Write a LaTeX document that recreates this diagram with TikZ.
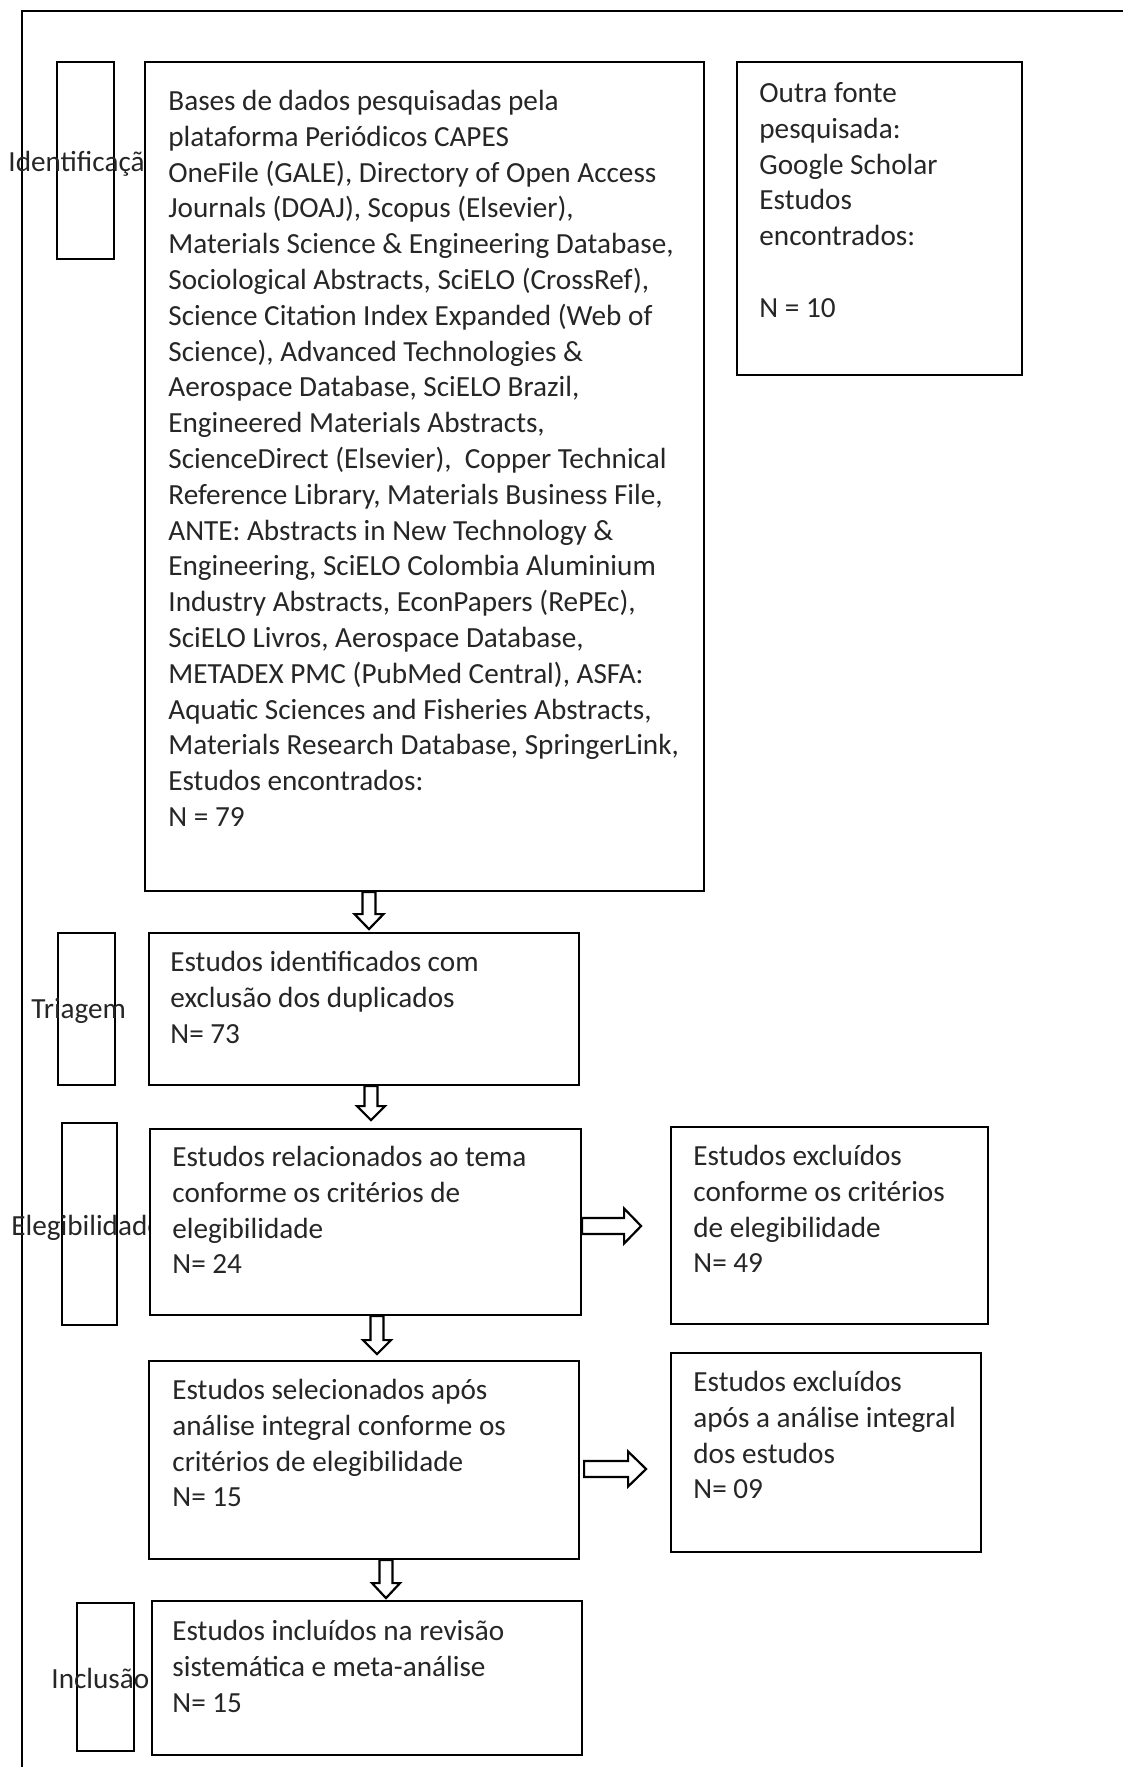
\documentclass[tikz,border=0pt]{standalone}
\usepackage{fontspec}
\setmainfont{Carlito}
\usetikzlibrary{fit,calc}
\tikzset{
  box/.style={draw=black, line width=1.1pt, fill=white, inner sep=0pt},
  labbox/.style={draw=black, line width=1.1pt, inner sep=0pt},
  txt/.style={anchor=north west, inner sep=0pt, align=left, font=\fontsize{14.6}{17.9}\selectfont, text=black!85},
  labtxt/.style={anchor=base west, inner sep=0pt, font=\fontsize{14.6}{17.9}\selectfont, text=black!85},
  blk/.style={draw=black, line width=1.1pt, fill=white, line join=miter}
}
\begin{document}
\begin{tikzpicture}[x=0.5pt,y=-0.5pt]
\useasboundingbox (0,0) rectangle (1123,1767);
% outer frame (only left and top visible)
\coordinate (fbl) at (22,1767);
\coordinate (ftl) at (22,11);
\coordinate (ftr) at (1123,11);
\draw[line width=1.2pt] (fbl) -- (ftl) -- (ftr);

% stage label boxes
\node[labbox, fit={(57,62) (114,259)}] (idlab) {};
\node[labbox, fit={(58,933) (115,1085)}] (trilab) {};
\node[labbox, fit={(62,1123) (117,1325)}] (elelab) {};
\node[labbox, fit={(77,1603) (134,1751)}] (inclab) {};

% stage label texts
\node[labtxt] (idtxt) at (8,171) {Identificação};
\node[labtxt] (tritxt) at (31,1018) {Triagem};
\node[labtxt] (eletxt) at (11,1235) {Elegibilidade};
\node[labtxt] (inctxt) at (51,1688) {Inclusão};

% main boxes
\node[box, fit={(145,62) (704,891)}] (main) {};
\node[box, fit={(737,62) (1022,375)}] (outra) {};
\node[box, fit={(149,933) (579,1085)}] (tri) {};
\node[box, fit={(150,1129) (581,1315)}] (ele) {};
\node[box, fit={(671,1127) (988,1324)}] (exc1) {};
\node[box, fit={(149,1361) (579,1559)}] (sel) {};
\node[box, fit={(671,1353) (981,1552)}] (exc2) {};
\node[box, fit={(152,1601) (582,1755)}] (inc) {};

% texts
\node[txt] (maintxt) at (168,85) {\strut Bases de dados pesquisadas pela\\
plataforma Periódicos CAPES\\
OneFile (GALE), Directory of Open Access\\
Journals (DOAJ), Scopus (Elsevier),\\
Materials Science \& Engineering Database,\\
Sociological Abstracts, SciELO (CrossRef),\\
Science Citation Index Expanded (Web of\\
Science), Advanced Technologies \&\\
Aerospace Database, SciELO Brazil,\\
Engineered Materials Abstracts,\\
ScienceDirect (Elsevier),\ \ Copper Technical\\
Reference Library, Materials Business File,\\
ANTE: Abstracts in New Technology \&\\
Engineering, SciELO Colombia Aluminium\\
Industry Abstracts, EconPapers (RePEc),\\
SciELO Livros, Aerospace Database,\\
METADEX PMC (PubMed Central), ASFA:\\
Aquatic Sciences and Fisheries Abstracts,\\
Materials Research Database, SpringerLink,\\
Estudos encontrados:\\
N = 79};
\node[txt] (outratxt) at (759,77) {\strut Outra fonte\\
pesquisada:\\
Google Scholar\\
Estudos\\
encontrados:\\
\strut\\
N = 10};
\node[txt] (tritxtb) at (170,946) {\strut Estudos identificados com\\
exclusão dos duplicados\\
N= 73};
\node[txt] (eletxtb) at (172,1141) {\strut Estudos relacionados ao tema\\
conforme os critérios de\\
elegibilidade\\
N= 24};
\node[txt] (exc1txt) at (693,1140) {\strut Estudos excluídos\\
conforme os critérios\\
de elegibilidade\\
N= 49};
\node[txt] (seltxt) at (172,1374) {\strut Estudos selecionados após\\
análise integral conforme os\\
critérios de elegibilidade\\
N= 15};
\node[txt] (exc2txt) at (693,1366) {\strut Estudos excluídos\\
após a análise integral\\
dos estudos\\
N= 09};
\node[txt] (inctxtb) at (172,1615) {\strut Estudos incluídos na revisão\\
sistemática e meta-análise\\
N= 15};

% hollow block arrows (down)
\draw[blk] ($(main.south)+(-55.5,0)$) ++(-6.5,0) -- ++(0,22) -- ++(-8,0) -- ++(14.5,15) -- ++(14.5,-15) -- ++(-8,0) -- ++(0,-22) -- cycle;
\draw[blk] ($(tri.south)+(7,0)$) ++(-6.5,0) -- ++(0,20) -- ++(-7.5,0) -- ++(14,14) -- ++(14,-14) -- ++(-7.5,0) -- ++(0,-20) -- cycle;
\draw[blk] ($(ele.south)+(11.5,0)$) ++(-6.5,0) -- ++(0,24) -- ++(-7.5,0) -- ++(14,14) -- ++(14,-14) -- ++(-7.5,0) -- ++(0,-24) -- cycle;
\draw[blk] ($(sel.south)+(22,0)$) ++(-6.5,0) -- ++(0,23) -- ++(-7.5,0) -- ++(14,15) -- ++(14,-15) -- ++(-7.5,0) -- ++(0,-23) -- cycle;
% hollow block arrows (right)
\draw[blk] ($(ele.east)+(0,4)$) ++(0,-8) -- ++(42,0) -- ++(0,-9.5) -- ++(17,17.5) -- ++(-17,17.5) -- ++(0,-9.5) -- ++(-42,0) -- cycle;
\draw[blk] ($(sel.east)+(4,9)$) ++(0,-8) -- ++(44,0) -- ++(0,-9.5) -- ++(18,17.5) -- ++(-18,17.5) -- ++(0,-9.5) -- ++(-44,0) -- cycle;
\end{tikzpicture}
\end{document}
